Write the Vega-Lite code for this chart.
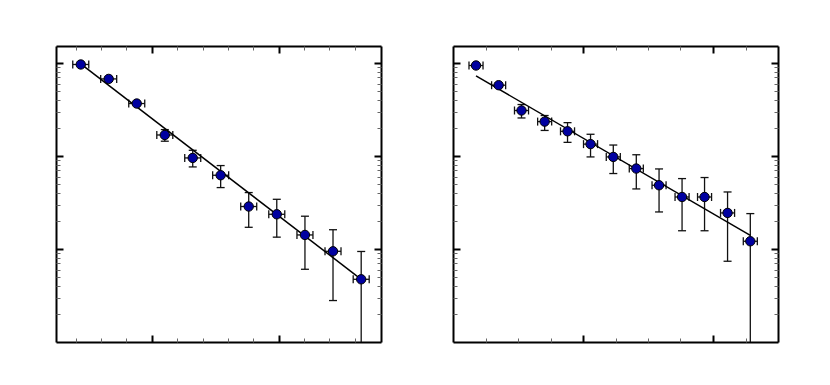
{
  "$schema": "https://vega.github.io/schema/vega-lite/v6.json",
  "padding": {"left": 55, "top": 45, "right": 5, "bottom": 5},
  "background": "white",
  "config": {"view": {"stroke": null}, "axis": {"labels": false, "grid": false}},
  "spacing": 70,
  "datasets": {
    "left": [
      {"x": 0.441, "y": 96.2, "ylo": 91.6, "yhi": 101, "xlo": 0.378, "xhi": 0.504},
      {"x": 0.661, "y": 67.3, "ylo": 64.1, "yhi": 70.7, "xlo": 0.598, "xhi": 0.724},
      {"x": 0.882, "y": 36.6, "ylo": 34.9, "yhi": 38.4, "xlo": 0.819, "xhi": 0.945},
      {"x": 1.103, "y": 16.8, "ylo": 14.4, "yhi": 19.2, "xlo": 1.040, "xhi": 1.166},
      {"x": 1.323, "y": 9.52, "ylo": 7.62, "yhi": 11.5, "xlo": 1.260, "xhi": 1.386},
      {"x": 1.543, "y": 6.20, "ylo": 4.57, "yhi": 7.88, "xlo": 1.480, "xhi": 1.606},
      {"x": 1.764, "y": 2.86, "ylo": 1.71, "yhi": 4.04, "xlo": 1.701, "xhi": 1.827},
      {"x": 1.985, "y": 2.36, "ylo": 1.34, "yhi": 3.42, "xlo": 1.922, "xhi": 2.048},
      {"x": 2.207, "y": 1.415, "ylo": 0.605, "yhi": 2.25, "xlo": 2.144, "xhi": 2.270},
      {"x": 2.428, "y": 0.944, "ylo": 0.279, "yhi": 1.61, "xlo": 2.365, "xhi": 2.491},
      {"x": 2.650, "y": 0.472, "ylo": 0.01, "yhi": 0.940, "xlo": 2.587, "xhi": 2.713}
    ],
    "right": [
      {"x": 1.177, "y": 93.8, "ylo": 89.3, "yhi": 98.5, "xlo": 1.123, "xhi": 1.231},
      {"x": 1.351, "y": 57.6, "ylo": 54.9, "yhi": 60.5, "xlo": 1.297, "xhi": 1.405},
      {"x": 1.527, "y": 30.8, "ylo": 25.6, "yhi": 35.7, "xlo": 1.473, "xhi": 1.581},
      {"x": 1.705, "y": 23.4, "ylo": 18.8, "yhi": 27.2, "xlo": 1.651, "xhi": 1.759},
      {"x": 1.881, "y": 18.4, "ylo": 14.0, "yhi": 22.8, "xlo": 1.827, "xhi": 1.935},
      {"x": 2.058, "y": 13.4, "ylo": 9.76, "yhi": 17.1, "xlo": 2.004, "xhi": 2.112},
      {"x": 2.233, "y": 9.76, "ylo": 6.47, "yhi": 13.1, "xlo": 2.179, "xhi": 2.287},
      {"x": 2.410, "y": 7.32, "ylo": 4.42, "yhi": 10.3, "xlo": 2.356, "xhi": 2.464},
      {"x": 2.585, "y": 4.84, "ylo": 2.50, "yhi": 7.25, "xlo": 2.531, "xhi": 2.639},
      {"x": 2.762, "y": 3.62, "ylo": 1.57, "yhi": 5.71, "xlo": 2.708, "xhi": 2.816},
      {"x": 2.935, "y": 3.62, "ylo": 1.57, "yhi": 5.86, "xlo": 2.881, "xhi": 2.989},
      {"x": 3.112, "y": 2.44, "ylo": 0.738, "yhi": 4.10, "xlo": 3.058, "xhi": 3.166},
      {"x": 3.287, "y": 1.21, "ylo": 0.01, "yhi": 2.40, "xlo": 3.233, "xhi": 3.341}
    ],
    "leftfit": [{"x": 0.441, "y": 97.8}, {"x": 2.650, "y": 0.472}],
    "rightfit": [{"x": 1.177, "y": 72.5}, {"x": 3.287, "y": 1.40}]
  },
  "hconcat": [
    {
      "width": 325, "height": 296,
      "data": {"name": "left"},
      "resolve": {"axis": {"x": "independent", "y": "independent"}},
      "layer": [
        {"mark": {"type": "rule", "color": "#111", "strokeWidth": 1.3},
         "encoding": {
           "x": {"field": "xlo", "type": "quantitative", "scale": {"domain": [0.246, 2.806], "nice": false, "zero": false},
                 "axis": {"orient": "bottom", "values": [1, 2], "tickSize": -7, "tickWidth": 2, "tickColor": "#000", "domain": true, "domainColor": "#000", "domainWidth": 2, "labels": false, "title": null}},
           "x2": {"field": "xhi"},
           "y": {"field": "y", "type": "quantitative", "scale": {"type": "log", "domain": [0.1, 152], "nice": false},
                 "axis": {"orient": "left", "values": [1, 10, 100], "tickSize": -7, "tickWidth": 2, "tickColor": "#000", "domain": true, "domainColor": "#000", "domainWidth": 2, "labels": false, "title": null}}
         }},
        {"mark": {"type": "rule", "color": "#111", "strokeWidth": 1.3, "clip": true},
         "encoding": {
           "x": {"field": "x", "type": "quantitative", "scale": {"domain": [0.246, 2.806], "nice": false, "zero": false},
                 "axis": {"orient": "bottom", "values": [0.4, 0.6, 0.8, 1.2, 1.4, 1.6, 1.8, 2.2, 2.4, 2.6], "tickSize": -4, "tickWidth": 1, "tickColor": "#666", "domain": false, "labels": false, "title": null}},
           "y": {"field": "ylo", "type": "quantitative", "scale": {"type": "log", "domain": [0.1, 152], "nice": false},
                 "axis": {"orient": "left", "values": [0.2, 0.3, 0.4, 0.5, 0.6, 0.7, 0.8, 0.9, 2, 3, 4, 5, 6, 7, 8, 9, 20, 30, 40, 50, 60, 70, 80, 90], "tickSize": -4, "tickWidth": 1, "tickColor": "#666", "domain": false, "labels": false, "title": null}},
           "y2": {"field": "yhi"}
         }},
        {"mark": {"type": "tick", "orient": "horizontal", "size": 8, "thickness": 1.3, "color": "#111", "opacity": 1},
         "encoding": {
           "x": {"field": "x", "type": "quantitative", "scale": {"domain": [0.246, 2.806], "nice": false, "zero": false},
                 "axis": {"orient": "top", "values": [1, 2], "tickSize": -7, "tickWidth": 2, "tickColor": "#000", "domain": true, "domainColor": "#000", "domainWidth": 2, "labels": false, "title": null}},
           "y": {"field": "yhi", "type": "quantitative", "scale": {"type": "log", "domain": [0.1, 152], "nice": false},
                 "axis": {"orient": "right", "values": [1, 10, 100], "tickSize": -7, "tickWidth": 2, "tickColor": "#000", "domain": true, "domainColor": "#000", "domainWidth": 2, "labels": false, "title": null}}
         }},
        {"mark": {"type": "tick", "orient": "horizontal", "size": 8, "thickness": 1.3, "color": "#111", "opacity": 1, "clip": true},
         "encoding": {
           "x": {"field": "x", "type": "quantitative", "scale": {"domain": [0.246, 2.806], "nice": false, "zero": false},
                 "axis": {"orient": "top", "values": [0.4, 0.6, 0.8, 1.2, 1.4, 1.6, 1.8, 2.2, 2.4, 2.6], "tickSize": -4, "tickWidth": 1, "tickColor": "#666", "domain": false, "labels": false, "title": null}},
           "y": {"field": "ylo", "type": "quantitative", "scale": {"type": "log", "domain": [0.1, 152], "nice": false},
                 "axis": {"orient": "right", "values": [0.2, 0.3, 0.4, 0.5, 0.6, 0.7, 0.8, 0.9, 2, 3, 4, 5, 6, 7, 8, 9, 20, 30, 40, 50, 60, 70, 80, 90], "tickSize": -4, "tickWidth": 1, "tickColor": "#666", "domain": false, "labels": false, "title": null}}
         }},
        {"mark": {"type": "tick", "orient": "vertical", "size": 8, "thickness": 1.3, "color": "#111", "opacity": 1},
         "encoding": {
           "x": {"field": "xlo", "type": "quantitative", "axis": null},
           "y": {"field": "y", "type": "quantitative", "axis": null}
         }},
        {"mark": {"type": "tick", "orient": "vertical", "size": 8, "thickness": 1.3, "color": "#111", "opacity": 1},
         "encoding": {
           "x": {"field": "xhi", "type": "quantitative", "axis": null},
           "y": {"field": "y", "type": "quantitative", "axis": null}
         }},
        {"data": {"name": "leftfit"},
         "mark": {"type": "line", "color": "#000", "strokeWidth": 1.5},
         "encoding": {
           "x": {"field": "x", "type": "quantitative", "axis": null},
           "y": {"field": "y", "type": "quantitative", "axis": null}
         }},
        {"mark": {"type": "circle", "size": 88, "fill": "#0000a0", "stroke": "#000", "strokeWidth": 1, "opacity": 1},
         "encoding": {
           "x": {"field": "x", "type": "quantitative", "axis": null},
           "y": {"field": "y", "type": "quantitative", "axis": null}
         }}
      ]
    },
    {
      "width": 325, "height": 296,
      "data": {"name": "right"},
      "resolve": {"axis": {"x": "independent", "y": "independent"}},
      "layer": [
        {"mark": {"type": "rule", "color": "#111", "strokeWidth": 1.3},
         "encoding": {
           "x": {"field": "xlo", "type": "quantitative", "scale": {"domain": [1, 3.5], "nice": false, "zero": false},
                 "axis": {"orient": "bottom", "values": [2, 3], "tickSize": -7, "tickWidth": 2, "tickColor": "#000", "domain": true, "domainColor": "#000", "domainWidth": 2, "labels": false, "title": null}},
           "x2": {"field": "xhi"},
           "y": {"field": "y", "type": "quantitative", "scale": {"type": "log", "domain": [0.1, 152], "nice": false},
                 "axis": {"orient": "left", "values": [1, 10, 100], "tickSize": -7, "tickWidth": 2, "tickColor": "#000", "domain": true, "domainColor": "#000", "domainWidth": 2, "labels": false, "title": null}}
         }},
        {"mark": {"type": "rule", "color": "#111", "strokeWidth": 1.3, "clip": true},
         "encoding": {
           "x": {"field": "x", "type": "quantitative", "scale": {"domain": [1, 3.5], "nice": false, "zero": false},
                 "axis": {"orient": "bottom", "values": [1.25, 1.5, 1.75, 2.25, 2.5, 2.75, 3.25], "tickSize": -4, "tickWidth": 1, "tickColor": "#666", "domain": false, "labels": false, "title": null}},
           "y": {"field": "ylo", "type": "quantitative", "scale": {"type": "log", "domain": [0.1, 152], "nice": false},
                 "axis": {"orient": "left", "values": [0.2, 0.3, 0.4, 0.5, 0.6, 0.7, 0.8, 0.9, 2, 3, 4, 5, 6, 7, 8, 9, 20, 30, 40, 50, 60, 70, 80, 90], "tickSize": -4, "tickWidth": 1, "tickColor": "#666", "domain": false, "labels": false, "title": null}},
           "y2": {"field": "yhi"}
         }},
        {"mark": {"type": "tick", "orient": "horizontal", "size": 8, "thickness": 1.3, "color": "#111", "opacity": 1},
         "encoding": {
           "x": {"field": "x", "type": "quantitative", "scale": {"domain": [1, 3.5], "nice": false, "zero": false},
                 "axis": {"orient": "top", "values": [2, 3], "tickSize": -7, "tickWidth": 2, "tickColor": "#000", "domain": true, "domainColor": "#000", "domainWidth": 2, "labels": false, "title": null}},
           "y": {"field": "yhi", "type": "quantitative", "scale": {"type": "log", "domain": [0.1, 152], "nice": false},
                 "axis": {"orient": "right", "values": [1, 10, 100], "tickSize": -7, "tickWidth": 2, "tickColor": "#000", "domain": true, "domainColor": "#000", "domainWidth": 2, "labels": false, "title": null}}
         }},
        {"mark": {"type": "tick", "orient": "horizontal", "size": 8, "thickness": 1.3, "color": "#111", "opacity": 1, "clip": true},
         "encoding": {
           "x": {"field": "x", "type": "quantitative", "scale": {"domain": [1, 3.5], "nice": false, "zero": false},
                 "axis": {"orient": "top", "values": [1.25, 1.5, 1.75, 2.25, 2.5, 2.75, 3.25], "tickSize": -4, "tickWidth": 1, "tickColor": "#666", "domain": false, "labels": false, "title": null}},
           "y": {"field": "ylo", "type": "quantitative", "scale": {"type": "log", "domain": [0.1, 152], "nice": false},
                 "axis": {"orient": "right", "values": [0.2, 0.3, 0.4, 0.5, 0.6, 0.7, 0.8, 0.9, 2, 3, 4, 5, 6, 7, 8, 9, 20, 30, 40, 50, 60, 70, 80, 90], "tickSize": -4, "tickWidth": 1, "tickColor": "#666", "domain": false, "labels": false, "title": null}}
         }},
        {"mark": {"type": "tick", "orient": "vertical", "size": 8, "thickness": 1.3, "color": "#111", "opacity": 1},
         "encoding": {
           "x": {"field": "xlo", "type": "quantitative", "axis": null},
           "y": {"field": "y", "type": "quantitative", "axis": null}
         }},
        {"mark": {"type": "tick", "orient": "vertical", "size": 8, "thickness": 1.3, "color": "#111", "opacity": 1},
         "encoding": {
           "x": {"field": "xhi", "type": "quantitative", "axis": null},
           "y": {"field": "y", "type": "quantitative", "axis": null}
         }},
        {"data": {"name": "rightfit"},
         "mark": {"type": "line", "color": "#000", "strokeWidth": 1.5},
         "encoding": {
           "x": {"field": "x", "type": "quantitative", "axis": null},
           "y": {"field": "y", "type": "quantitative", "axis": null}
         }},
        {"mark": {"type": "circle", "size": 88, "fill": "#0000a0", "stroke": "#000", "strokeWidth": 1, "opacity": 1},
         "encoding": {
           "x": {"field": "x", "type": "quantitative", "axis": null},
           "y": {"field": "y", "type": "quantitative", "axis": null}
         }}
      ]
    }
  ]
}
